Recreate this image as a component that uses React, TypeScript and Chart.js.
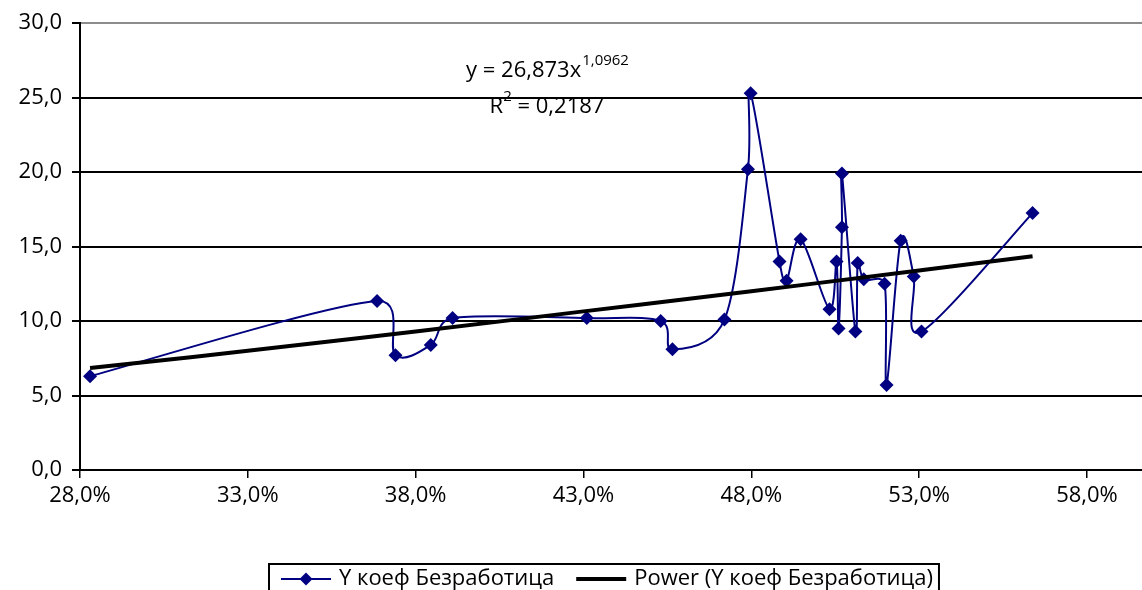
import React, { useEffect, useRef } from "react";
import { Chart, registerables } from "chart.js";

Chart.register(...registerables);

const seriesName = "Y коеф Безработица";
const trendName = "Power (Y коеф Безработица)";

// Data points (x in %, y value), in plotting order
const xValues = [28.3, 36.85, 37.4, 38.45, 39.1, 43.1, 45.3, 45.65, 47.2, 47.9, 47.98, 48.84, 49.05, 49.47, 50.33, 50.54, 50.6, 50.7, 50.7, 51.1, 51.17, 51.35, 51.97, 52.03, 52.45, 52.84, 53.07, 56.38];
const yValues = [6.3, 11.35, 7.7, 8.4, 10.2, 10.2, 10.0, 8.1, 10.1, 20.2, 25.3, 14.0, 12.7, 15.5, 10.8, 14.0, 9.5, 16.3, 19.9, 9.3, 13.9, 12.8, 12.5, 5.7, 15.4, 13.0, 9.3, 17.25];

// Power trendline
const trendX = [28.3, 33, 38, 43, 48, 53, 56.38];
const trendY = [6.85, 8.0, 9.3, 10.65, 12.0, 13.4, 14.35];

const xTicks = [28, 33, 38, 43, 48, 53, 58];
const yTicks = [0, 5, 10, 15, 20, 25, 30];

const equationMain = "y = 26,873x";
const equationExp = "1,0962";
const r2Base = "R";
const r2Exp = "2";
const r2Rest = " = 0,2187";

const NAVY = "#000080";
const FONT = "'Open Sans', 'Noto Sans', sans-serif";
const FS = 22;
const FW = "500";

const fmt = (v: number) => v.toFixed(1).replace(".", ",");

// Excel-like smoothing: Catmull-Rom handles (1/6), limited to half a segment
const smoothPlugin = {
  id: "excelSmooth",
  beforeDatasetsDraw(chart: any) {
    chart.data.datasets.forEach((_ds: any, di: number) => {
      const meta = chart.getDatasetMeta(di);
      const pts = meta.data;
      const n = pts.length;
      for (let i = 0; i < n; i++) {
        const p = pts[i];
        const prev = pts[Math.max(i - 1, 0)];
        const next = pts[Math.min(i + 1, n - 1)];
        const tx = (next.x - prev.x) / 6;
        const ty = (next.y - prev.y) / 6;
        const tl = Math.hypot(tx, ty);
        const dPrev = Math.hypot(p.x - prev.x, p.y - prev.y);
        const dNext = Math.hypot(next.x - p.x, next.y - p.y);
        const s1 = tl > 0 ? Math.min(1, dPrev / 2 / tl) : 0;
        const s2 = tl > 0 ? Math.min(1, dNext / 2 / tl) : 0;
        p.cp1x = p.x - tx * s1;
        p.cp1y = p.y - ty * s1;
        p.cp2x = p.x + tx * s2;
        p.cp2y = p.y + ty * s2;
      }
      if (meta.dataset) meta.dataset._pointsUpdated = true;
    });
  },
};

const overlayPlugin = {
  id: "overlay",
  afterDraw(chart: any) {
    const ctx = chart.ctx as CanvasRenderingContext2D;
    ctx.save();
    ctx.fillStyle = "#000";
    ctx.textBaseline = "alphabetic";
    // Equation
    const cx = 547;
    const big = `${FW} ${FS}px ${FONT}`;
    const small = `${FW} ${Math.round(FS * 0.68)}px ${FONT}`;
    ctx.font = big;
    const w1 = ctx.measureText(equationMain).width;
    ctx.font = small;
    const w2 = ctx.measureText(equationExp).width;
    let x0 = cx - (w1 + w2) / 2;
    ctx.font = big;
    ctx.fillText(equationMain, x0, 77);
    ctx.font = small;
    ctx.fillText(equationExp, x0 + w1 + 1, 65);
    // R^2
    ctx.font = big;
    const r1 = ctx.measureText(r2Base).width;
    const r3 = ctx.measureText(r2Rest).width;
    ctx.font = small;
    const r2 = ctx.measureText(r2Exp).width;
    x0 = cx - (r1 + r2 + r3) / 2;
    ctx.font = big;
    ctx.fillText(r2Base, x0, 113);
    ctx.font = small;
    ctx.fillText(r2Exp, x0 + r1, 101);
    ctx.font = big;
    ctx.fillText(r2Rest, x0 + r1 + r2, 113);

    // Legend box
    const ds = chart.data.datasets;
    const s = ds[1];
    const t = ds[0];
    ctx.font = big;
    const tw1 = ctx.measureText(s.label).width;
    const tw2 = ctx.measureText(t.label).width;
    const left = 269;
    const top = 564;
    const cy = 579;
    const padL = 12, lineLen = 50, gap = 8, between = 22, padR = 6;
    const total = padL + lineLen + gap + tw1 + between + lineLen + gap + tw2 + padR;
    ctx.strokeStyle = "#000";
    ctx.lineWidth = 2;
    ctx.strokeRect(left, top, total, 60);
    let x = left + padL;
    ctx.strokeStyle = s.borderColor;
    ctx.lineWidth = s.borderWidth;
    ctx.beginPath();
    ctx.moveTo(x, cy);
    ctx.lineTo(x + lineLen, cy);
    ctx.stroke();
    ctx.fillStyle = s.backgroundColor;
    const dm = x + lineLen / 2;
    const r = 6.5;
    ctx.beginPath();
    ctx.moveTo(dm, cy - r);
    ctx.lineTo(dm + r, cy);
    ctx.lineTo(dm, cy + r);
    ctx.lineTo(dm - r, cy);
    ctx.closePath();
    ctx.fill();
    x += lineLen + gap;
    ctx.fillStyle = "#000";
    ctx.textBaseline = "middle";
    ctx.fillText(s.label, x, cy);
    x += tw1 + between;
    ctx.strokeStyle = t.borderColor;
    ctx.lineWidth = t.borderWidth;
    ctx.beginPath();
    ctx.moveTo(x, cy);
    ctx.lineTo(x + lineLen, cy);
    ctx.stroke();
    x += lineLen + gap;
    ctx.fillText(t.label, x, cy);
    ctx.restore();
  },
};

export default function App() {
  const ref = useRef<HTMLCanvasElement>(null);
  useEffect(() => {
    document.body.style.margin = "0";
    const canvas = ref.current!;
    const font = { family: FONT, size: FS, weight: FW };
    const chart = new Chart(canvas, {
      type: "scatter",
      data: {
        datasets: [
          {
            label: trendName,
            data: trendX.map((x, i) => ({ x, y: trendY[i] })),
            showLine: true,
            borderColor: "#000",
            backgroundColor: "#000",
            borderWidth: 4,
            pointRadius: 0,
            tension: 0.4,
            order: 0,
          },
          {
            label: seriesName,
            data: xValues.map((x, i) => ({ x, y: yValues[i] })),
            showLine: true,
            borderColor: NAVY,
            backgroundColor: NAVY,
            borderWidth: 2,
            pointStyle: "rectRot",
            pointRadius: 7,
            pointBorderWidth: 0,
            pointBorderColor: NAVY,
            tension: 0.4,
            order: 1,
          },
        ],
      },
      options: {
        responsive: false,
        animation: false,
        layout: { autoPadding: false, padding: { left: 0, right: 0, top: 23, bottom: 70 } },
        plugins: { legend: { display: false }, tooltip: { enabled: false } },
        scales: {
          x: {
            type: "linear",
            min: 28,
            max: 59.64,
            afterBuildTicks: (sc: any) => {
              sc.ticks = xTicks.map((v) => ({ value: v }));
            },
            afterFit: (sc: any) => {
              sc.height = 50;
              sc.paddingRight = 0;
              sc.paddingLeft = 0;
            },
            ticks: {
              callback: (v: any) => fmt(Number(v)) + "%",
              font,
              color: "#000",
              padding: 5,
              maxRotation: 0,
              autoSkip: false,
            },
            grid: {
              drawOnChartArea: false,
              drawTicks: true,
              tickLength: 8,
              color: "#000",
              lineWidth: 1.5,
            },
            border: { color: "#000", width: 2 },
          },
          y: {
            type: "linear",
            min: 0,
            max: 30,
            afterBuildTicks: (sc: any) => {
              sc.ticks = yTicks.map((v) => ({ value: v }));
            },
            afterFit: (sc: any) => {
              sc.width = 80;
            },
            ticks: {
              callback: (v: any) => fmt(Number(v)),
              font,
              color: "#000",
              padding: 10,
            },
            grid: {
              color: (c: any) => (c.tick && c.tick.value === 30 ? "#8c8c8c" : "#000"),
              tickColor: "#000",
              lineWidth: 2,
              tickLength: 8,
            },
            border: { color: "#000", width: 2 },
          },
        },
      } as any,
      plugins: [smoothPlugin, overlayPlugin],
    });
    return () => chart.destroy();
  }, []);
  return (
    <div style={{ width: 1142, height: 590, position: "relative", overflow: "hidden" }}>
      <canvas ref={ref} width={1142} height={590} style={{ display: "block" }} />
    </div>
  );
}
